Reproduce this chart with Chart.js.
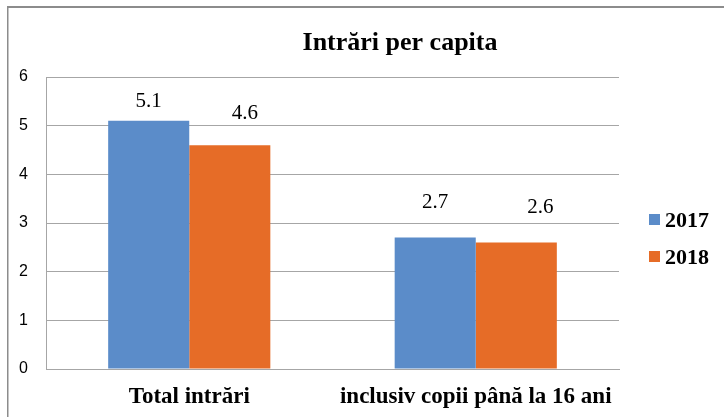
<!DOCTYPE html>
<html>
<head>
<meta charset="utf-8">
<script src="https://cdn.jsdelivr.net/npm/chart.js@4"></script>
<style>
  html, body { margin: 0; padding: 0; background: #fff; }
  #wrap { width: 724px; height: 417px; position: relative; }
</style>
</head>
<body>
<div id="wrap"><canvas id="c"></canvas></div>
<script>
// date
const categories = ['Total intrări', 'inclusiv copii până la 16 ani'];
const years = ['2017', '2018'];
const values2017 = [5.1, 2.7];
const values2018 = [4.6, 2.6];
const yTicks = [0, 1, 2, 3, 4, 5, 6];
const chartTitle = 'Intrări per capita';

const colors = ['#5B8CC9', '#E66C27'];
const gridGray = '#A6A6A6';

// deplasarea etichetelor de valoare (mutate manual in original)
const labelShift = [
  [[0, -19], [0, -35]],
  [[15, -32], [24, -35]]
];

const decorPlugin = {
  id: 'decor',
  beforeDraw(chart) {
    const ctx = chart.ctx;
    ctx.save();
    ctx.fillStyle = '#fff';
    ctx.fillRect(0, 0, chart.width, chart.height);
    ctx.fillStyle = '#8C8C8C';
    ctx.fillRect(7, 6, chart.width - 7, 2);
    ctx.fillRect(7, 6, 1.5, chart.height - 6);
    ctx.restore();
  },
  afterDraw(chart) {
    const ctx = chart.ctx;
    ctx.save();
    // titlu
    ctx.fillStyle = '#000';
    ctx.font = 'bold 26px "Liberation Serif", serif';
    ctx.textAlign = 'center';
    ctx.textBaseline = 'alphabetic';
    ctx.fillText(chartTitle, 400, 50);

    // etichete valori
    ctx.font = '21px "Liberation Serif", serif';
    chart.data.datasets.forEach((ds, i) => {
      const meta = chart.getDatasetMeta(i);
      meta.data.forEach((bar, j) => {
        const s = labelShift[i][j];
        ctx.textBaseline = 'middle';
        ctx.fillText(ds.data[j].toFixed(1), bar.x + s[0], bar.y + s[1]);
      });
    });

    // legenda
    ctx.textAlign = 'left';
    ctx.textBaseline = 'alphabetic';
    ctx.font = 'bold 22px "Liberation Serif", serif';
    chart.data.datasets.forEach((ds, i) => {
      const y = 214 + i * 37;
      ctx.fillStyle = ds.backgroundColor;
      ctx.fillRect(649, y, 11, 11);
      ctx.fillStyle = '#000';
      ctx.fillText(ds.label, 665, y + 13);
    });
    ctx.restore();
  }
};

new Chart(document.getElementById('c'), {
  type: 'bar',
  data: {
    labels: categories,
    datasets: [
      { label: years[0], data: values2017, backgroundColor: colors[0] },
      { label: years[1], data: values2018, backgroundColor: colors[1] }
    ]
  },
  options: {
    responsive: true,
    maintainAspectRatio: false,
    animation: false,
    layout: { padding: { top: 77, right: 105, left: 0, bottom: 0 } },
    datasets: { bar: { barPercentage: 1, categoryPercentage: 0.566 } },
    plugins: {
      legend: { display: false },
      title: { display: false },
      tooltip: { enabled: false }
    },
    scales: {
      x: {
        grid: { display: false, drawTicks: false },
        border: { display: true, color: gridGray },
        ticks: {
          color: '#000',
          padding: 14,
          maxRotation: 0,
          font: { family: '"Liberation Serif", serif', size: 23, weight: 'bold' }
        },
        afterFit(scale) { scale.height = 48; }
      },
      y: {
        min: 0,
        max: 6,
        afterBuildTicks(scale) { scale.ticks = yTicks.map(v => ({ value: v })); },
        grid: { color: gridGray, drawTicks: false },
        border: { display: true, color: gridGray },
        ticks: {
          color: '#000',
          padding: 18,
          font: { family: '"Liberation Sans", sans-serif', size: 16 }
        },
        afterFit(scale) { scale.width = 46; }
      }
    }
  },
  plugins: [decorPlugin]
});
</script>
</body>
</html>
